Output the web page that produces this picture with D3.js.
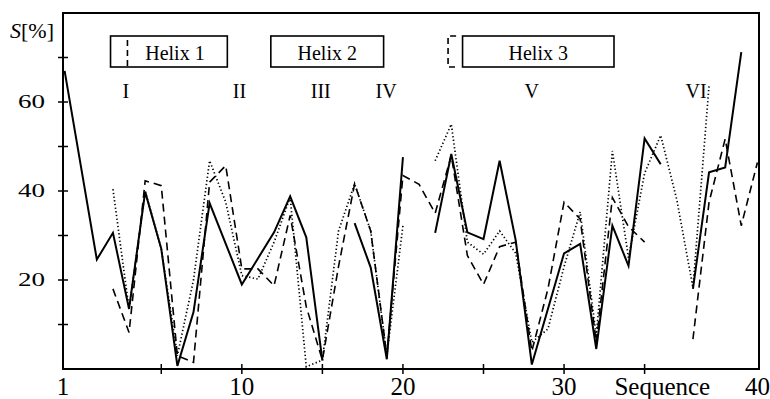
<!DOCTYPE html>
<html>
<head>
<meta charset="utf-8">
<script src="https://cdn.jsdelivr.net/npm/d3@7"></script>
<style>
  html, body { margin: 0; padding: 0; background: #fff; }
  svg { display: block; }
  svg text { font-family: "Liberation Serif", "Times New Roman", Times, "DejaVu Serif", serif; }
</style>
</head>
<body>
<figure id="chart" style="margin:0"></figure>
<script>
// sequence positions and S[%] values, null = break in the line
const solidX = [-1, 1, 2, 3, 4, 5, 6, 7, 8, 10, 12, 13, 14, 15, 16, 17, 18, 19, 20, 21, 22, 23, 24, 25, 26, 27, 28, 30, 31, 32, 33, 34, 35, 36, 37, 38, 39, 40, 41];
const solidY = [67, 24.6, 30.6, 13.5, 39.8, 27, 0.7, 12.8, 37.3, 19, 30.7, 38.8, 29.6, 1.9, null, 32.8, 22.8, 2.2, 47.6, null, 30.6, 48.3, 30.7, 29.2, 46.8, 28.9, 1, 26, 28.1, 4.5, 32.2, 23.2, 51.8, 46, null, 18, 44.2, 45.3, 71.2];

const dashedX = [2, 3, 4, 5, 6, 7, 8, 9, 10, 11, 12, 13, 14, 15, 16, 17, 18, 19, 20, 21, 22, 23, 24, 25, 26, 27, 28, 29, 30, 31, 32, 33, 34, 35, 36, 38, 39, 40, 41, 42];
const dashedY = [18, 8.2, 42.3, 41.2, 3, 1.5, 42, 45.7, 22.5, 22.5, 18.7, 34.5, 14, 2, 23, 41.6, 31, 3, 43.5, 41.5, 35, 48, 25.5, 19, 27.5, 28.5, 4, 18, 37.5, 33.7, 6, 38.5, 32, 28.5, null, 6.7, 37.5, 51.7, 32.2, 46.4];

const dottedX = [2, 3, 4, 5, 6, 7, 8, 9, 10, 11, 12, 13, 14, 15, 16, 17, 18, 19, 20, 21, 22, 23, 24, 25, 26, 27, 28, 29, 30, 31, 32, 33, 34, 35, 36, 37, 38, 39];
const dottedY = [40.4, 13.5, 40, 27, 3, 20, 46.8, 37.5, 21, 20.2, 28.5, 38.6, 0.5, 2, 31, 41.6, 31, 3, 32.2, null, 46.8, 55, 28.5, 25.8, 31, 26, 6, 9, 23, 35.3, 7.5, 49, 25, 44, 52.5, 38, 18.3, 63.7];

const xTicks = [5, 10, 15, 20, 25, 30, 35];
const xLabels = [{ pos: -1.1, text: "1" }, { pos: 10, text: "10" }, { pos: 20, text: "20" }, { pos: 30, text: "30" }, { pos: 36.1, text: "Sequence" }, { pos: 42.0, text: "40" }];
const yTicks = [10, 20, 30, 40, 50, 60, 70];
const yLabels = [20, 40, 60];

const romans = [{ pos: 2.8, text: "I" }, { pos: 9.85, text: "II" }, { pos: 14.9, text: "III" }, { pos: 18.95, text: "IV" }, { pos: 28, text: "V" }, { pos: 38.2, text: "VI" }];
// helix boxes: [start, end] in sequence units, plus the dashed marks
const helices = [{ name: "Helix 1", from: 1.85, to: 9.1 }, { name: "Helix 2", from: 11.8, to: 18.8 }, { name: "Helix 3", from: 23.7, to: 33.1 }];
const helixDash1 = 2.9;
const helixBracket3 = [22.8, 23.3];

const width = 770, height = 399;
const plotLeft = 63, plotRight = 759, plotTop = 13, plotBottom = 369;

const svg = d3.select("figure#chart")
  .append("svg")
  .attr("width", width)
  .attr("height", height);

const x = d3.scaleLinear().domain([-1.1, 42.1]).range([plotLeft, plotRight]);
const y = d3.scaleLinear().domain([0, 80]).range([plotBottom, plotTop]);

// frame
svg.append("rect")
  .attr("x", plotLeft).attr("y", plotTop)
  .attr("width", plotRight - plotLeft).attr("height", plotBottom - plotTop)
  .attr("fill", "none").attr("stroke", "#000").attr("stroke-width", 2);

// y ticks crossing the axis
svg.selectAll("line.yt").data(yTicks).enter().append("line")
  .attr("x1", plotLeft - 5).attr("x2", plotLeft + 5)
  .attr("y1", d => y(d)).attr("y2", d => y(d))
  .attr("stroke", "#000").attr("stroke-width", 1.5);

svg.selectAll("text.yl").data(yLabels).enter().append("text")
  .attr("x", plotLeft - 18).attr("y", d => y(d) + 6)
  .attr("text-anchor", "end")
  .attr("font-size", 19)
  .attr("textLength", 27).attr("lengthAdjust", "spacingAndGlyphs")
  .text(d => d);

svg.append("text")
  .attr("x", 10).attr("y", 38)
  .attr("font-size", 22)
  .html('<tspan font-style="italic">S</tspan>[%]');

// x ticks
svg.selectAll("line.xt").data(xTicks).enter().append("line")
  .attr("x1", d => x(d)).attr("x2", d => x(d))
  .attr("y1", plotBottom - 5).attr("y2", plotBottom + 5)
  .attr("stroke", "#000").attr("stroke-width", 1.5);

svg.selectAll("text.xl").data(xLabels).enter().append("text")
  .attr("x", d => x(d.pos)).attr("y", 395)
  .attr("text-anchor", "middle")
  .attr("font-size", 25)
  .text(d => d.text);

// helix boxes
const hb = svg.append("g").attr("fill", "none").attr("stroke", "#000").attr("stroke-width", 1.6);
helices.forEach(h => {
  hb.append("rect")
    .attr("x", x(h.from)).attr("y", 36)
    .attr("width", x(h.to) - x(h.from)).attr("height", 31);
  svg.append("text")
    .attr("x", (x(h.from) + x(h.to)) / 2 + (h.name == "Helix 1" ? 6 : 0)).attr("y", 60)
    .attr("text-anchor", "middle")
    .attr("font-size", 20)
    .text(h.name);
});
hb.append("line")
  .attr("x1", x(helixDash1)).attr("x2", x(helixDash1))
  .attr("y1", 40).attr("y2", 66)
  .attr("stroke-dasharray", "6,4");
hb.append("path")
  .attr("d", `M${x(helixBracket3[1])},36 H${x(helixBracket3[0])} V67 H${x(helixBracket3[1])}`)
  .attr("stroke-dasharray", "6,4");

svg.selectAll("text.rom").data(romans).enter().append("text")
  .attr("x", d => x(d.pos)).attr("y", 98)
  .attr("text-anchor", "middle")
  .attr("font-size", 20)
  .text(d => d.text);

// the three profiles
const line = d3.line()
  .defined(d => d[1] != null)
  .x(d => x(d[0]))
  .y(d => y(d[1]));

function drawSeries(xs, ys, dash, w) {
  svg.append("path")
    .datum(d3.zip(xs, ys))
    .attr("d", line)
    .attr("fill", "none")
    .attr("stroke", "#000")
    .attr("stroke-width", w)
    .attr("stroke-dasharray", dash)
    .attr("stroke-linejoin", "miter");
}

drawSeries(dottedX, dottedY, "1.3,2.4", 1.7);
drawSeries(dashedX, dashedY, "8,5", 1.6);
drawSeries(solidX, solidY, null, 2);
</script>
</body>
</html>
